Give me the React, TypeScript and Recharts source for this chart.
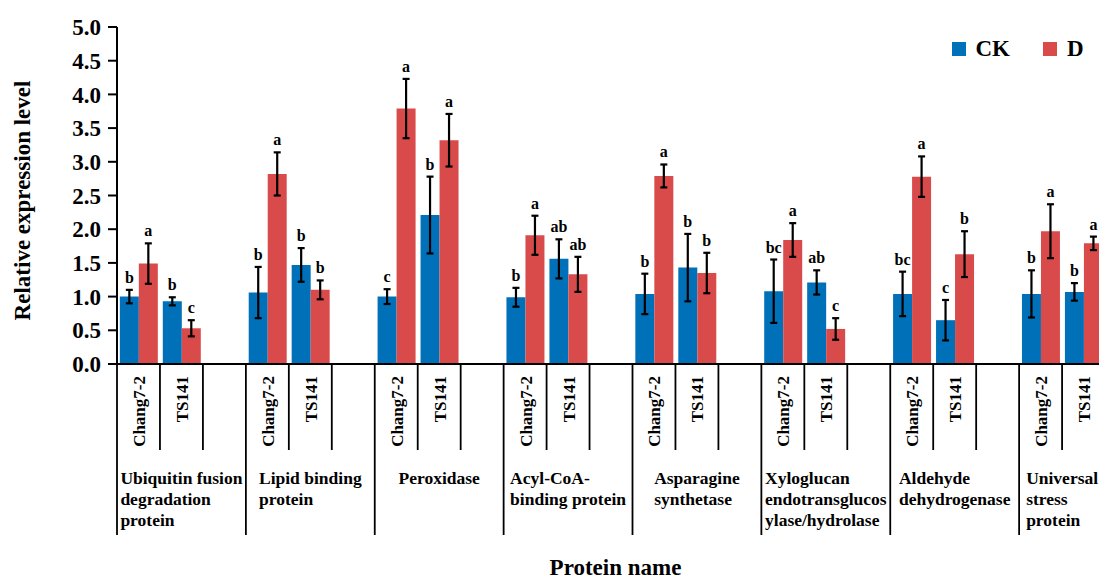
import { BarChart, Bar, XAxis, YAxis, ErrorBar, LabelList, Legend } from "recharts"

const proteinLines = [
  ["Ubiquitin fusion", "degradation", "protein"],
  ["Lipid binding", "protein"],
  ["Peroxidase"],
  ["Acyl-CoA-", "binding protein"],
  ["Asparagine", "synthetase"],
  ["Xyloglucan", "endotransglucos", "ylase/hydrolase"],
  ["Aldehyde", "dehydrogenase"],
  ["Universal", "stress", "protein"],
]
const cultivars = ["Chang7-2", "TS141"]
const seriesNames = ["CK", "D"]
const colors = ["#0070b8", "#d94b4b"]

// per protein: Chang7-2, TS141
const ckValues = [1.0, 0.93, 1.06, 1.47, 1.0, 2.21, 0.99, 1.56, 1.04, 1.43, 1.08, 1.21, 1.04, 0.65, 1.04, 1.07]
const ckErrors = [0.1, 0.06, 0.38, 0.25, 0.11, 0.57, 0.14, 0.29, 0.3, 0.5, 0.47, 0.18, 0.33, 0.3, 0.35, 0.13]
const ckLetters = ["b", "b", "b", "b", "c", "b", "b", "ab", "b", "b", "bc", "ab", "bc", "c", "b", "b"]
const dValues = [1.49, 0.53, 2.82, 1.1, 3.79, 3.32, 1.91, 1.33, 2.79, 1.35, 1.84, 0.52, 2.78, 1.63, 1.97, 1.79]
const dErrors = [0.3, 0.12, 0.32, 0.14, 0.44, 0.39, 0.29, 0.26, 0.17, 0.3, 0.25, 0.16, 0.3, 0.34, 0.4, 0.1]
const dLetters = ["a", "c", "a", "b", "a", "a", "a", "ab", "a", "b", "a", "c", "a", "b", "a", "a"]

const yTicks = [0, 0.5, 1, 1.5, 2, 2.5, 3, 3.5, 4, 4.5, 5]

const FONT = '"Liberation Serif", "Times New Roman", serif'
const CHART_W = 1148
const CHART_H = 581
const AXIS_W = 117
const TOP = 27
const X_AXIS_H = 217

type Row = {
  id: string
  ck?: number
  ckErr?: number
  ckTag?: string
  d?: number
  dErr?: number
  dTag?: string
}

const data: Row[] = []
proteinLines.forEach((_, p) => {
  cultivars.forEach((_, c) => {
    const i = p * 2 + c
    data.push({
      id: `${p}-${c}`,
      ck: ckValues[i],
      ckErr: ckErrors[i],
      ckTag: `${ckLetters[i]}|${ckValues[i]}|${ckErrors[i]}`,
      d: dValues[i],
      dErr: dErrors[i],
      dTag: `${dLetters[i]}|${dValues[i]}|${dErrors[i]}`,
    })
  })
  data.push({ id: `${p}-gap` })
})

const SLOT = (CHART_W - AXIS_W) / data.length

function SlotTick(props: any) {
  const { x, y } = props
  const index = props.index ?? props.payload?.index ?? 0
  const p = Math.floor(index / 3)
  const s = index % 3
  const left = x - SLOT / 2
  const last = p === proteinLines.length - 1
  return (
    <g>
      <line x1={left} y1={y} x2={left} y2={y + (s === 0 ? 171 : 86)} stroke="#000" strokeWidth={1.8} />
      {index === data.length - 1 && (
        <line x1={x + SLOT / 2} y1={y} x2={x + SLOT / 2} y2={y + 171} stroke="#000" strokeWidth={1.8} />
      )}
      {s < 2 && (
        <text
          x={x}
          y={y + 12}
          dy={6.5}
          transform={`rotate(-90 ${x} ${y + 12})`}
          textAnchor="end"
          fontSize={17}
          fontWeight={700}
          fontFamily={FONT}
          fill="#000"
        >
          {cultivars[s]}
        </text>
      )}
      {s === 1 && (
        <foreignObject x={x - 1.5 * SLOT} y={y + 103.5} width={3 * SLOT} height={70}>
          <div
            style={{
              display: "flex",
              justifyContent: last ? "flex-start" : "center",
              paddingLeft: last ? 7 : 0,
            }}
          >
            <div
              style={{
                textAlign: "left",
                whiteSpace: "nowrap",
                fontFamily: FONT,
                fontWeight: 700,
                fontSize: 17.5,
                lineHeight: "21px",
                color: "#000",
              }}
            >
              {proteinLines[p].map((line, k) => (
                <div key={k}>{line}</div>
              ))}
            </div>
          </div>
        </foreignObject>
      )}
    </g>
  )
}

function renderLetter(props: any) {
  const box = props.viewBox ?? props
  const { x, y, width, height } = box
  if (props.value == null || height == null) return null
  const [letter, v, e] = String(props.value).split("|")
  const val = Number(v)
  const err = Number(e)
  if (!val) return null
  const pxPerUnit = height / val
  const top = y - err * pxPerUnit
  return (
    <text x={x + width / 2} y={top - 7} textAnchor="middle" fontFamily={FONT} fontWeight={700} fontSize={16} fill="#000">
      {letter}
    </text>
  )
}

function YTitle() {
  return (
    <text
      x={29.5}
      y={200.5}
      transform="rotate(-90 29.5 200.5)"
      textAnchor="middle"
      fontFamily={FONT}
      fontWeight={700}
      fontSize={23}
      fill="#000"
    >
      Relative expression level
    </text>
  )
}

function XTitle() {
  return (
    <text x={615.5} y={575} textAnchor="middle" fontFamily={FONT} fontWeight={700} fontSize={23} fill="#000">
      Protein name
    </text>
  )
}

function LegendBox() {
  return (
    <div style={{ display: "flex", alignItems: "center", fontFamily: FONT, fontWeight: 700, fontSize: 23, lineHeight: "26px", color: "#000" }}>
      {seriesNames.map((name, i) => (
        <div key={name} style={{ display: "flex", alignItems: "center", marginRight: i === 0 ? 33 : 0 }}>
          <span style={{ display: "inline-block", width: 14, height: 14, background: colors[i], marginRight: 10 }} />
          <span>{name}</span>
        </div>
      ))}
    </div>
  )
}

export default function App() {
  return (
    <div style={{ position: "absolute", left: 0, top: 0, width: 1099, height: CHART_H, overflow: "hidden", background: "#fff" }}>
      <BarChart
        width={CHART_W}
        height={CHART_H}
        data={data}
        margin={{ top: TOP, right: 0, bottom: 0, left: 0 }}
        barCategoryGap="6.6%"
        barGap={0}
      >
        <XAxis
          dataKey="id"
          height={X_AXIS_H}
          interval={0}
          tickLine={false}
          tickSize={0}
          tickMargin={0}
          axisLine={{ stroke: "#000", strokeWidth: 2 }}
          tick={<SlotTick />}
          label={<XTitle />}
        />
        <YAxis
          width={AXIS_W}
          domain={[0, 5]}
          ticks={yTicks}
          interval={0}
          tickFormatter={(v: number) => v.toFixed(1)}
          tickSize={9}
          tickMargin={7}
          tickLine={{ stroke: "#000", strokeWidth: 2 }}
          axisLine={{ stroke: "#000", strokeWidth: 2 }}
          tick={{ fill: "#000", fontFamily: FONT, fontWeight: 700, fontSize: 23 }}
          label={<YTitle />}
        />
        <Legend
          layout="horizontal"
          verticalAlign="middle"
          align="center"
          wrapperStyle={{ top: 35.5, left: 951.5, width: 160 }}
          content={<LegendBox />}
        />
        <Bar dataKey="ck" name="CK" fill={colors[0]} isAnimationActive={false}>
          <ErrorBar dataKey="ckErr" width={3.5} strokeWidth={2.2} stroke="#000" />
          <LabelList dataKey="ckTag" content={renderLetter} />
        </Bar>
        <Bar dataKey="d" name="D" fill={colors[1]} isAnimationActive={false}>
          <ErrorBar dataKey="dErr" width={3.5} strokeWidth={2.2} stroke="#000" />
          <LabelList dataKey="dTag" content={renderLetter} />
        </Bar>
      </BarChart>
    </div>
  )
}
